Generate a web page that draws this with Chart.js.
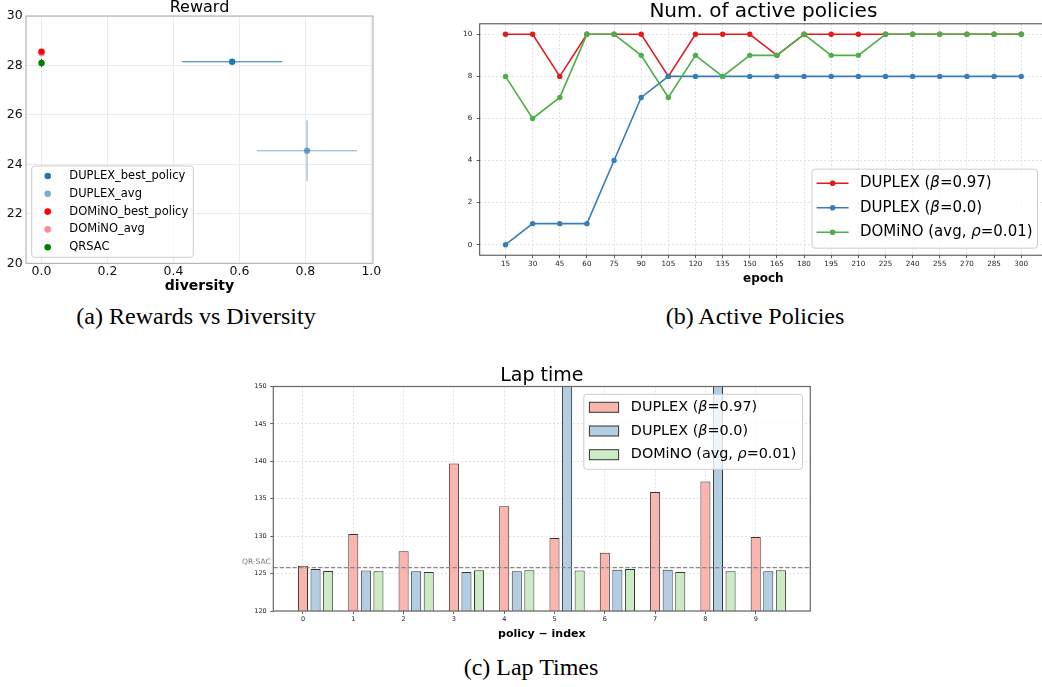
<!DOCTYPE html>
<html>
<head>
<meta charset="utf-8">
<script src="https://cdn.jsdelivr.net/npm/chart.js@4.4.0/dist/chart.umd.min.js"></script>
<style>
    html, body { margin: 0; padding: 0; background: #fff; width: 1042px; height: 687px; overflow: hidden; position: relative; }
    canvas { position: absolute; }
    .cap { position: absolute; font-family: "Liberation Serif", "Times New Roman", serif; font-size: 24px; line-height: 24px; color: #000; white-space: nowrap; transform: translateX(-50%); }
</style>
</head>
<body>
<canvas id="rewardChart" width="390" height="300" style="left:0;top:0"></canvas>
<canvas id="activeChart" width="680" height="300" style="left:440px;top:0"></canvas>
<canvas id="lapChart" width="610" height="290" style="left:220px;top:360px"></canvas>
<div class="cap" style="left:196px;top:304px">(a) Rewards vs Diversity</div>
<div class="cap" style="left:755px;top:304px">(b) Active Policies</div>
<div class="cap" style="left:531px;top:655px">(c) Lap Times</div>
<script>
// --- Data ---
// (a) reward vs diversity
const rewardNames = ['DUPLEX_best_policy', 'DUPLEX_avg', 'DOMiNO_best_policy', 'DOMiNO_avg', 'QRSAC'];
const diversity = [0.578, 0.805, 0.0, 0.0, 0.0];
const diversityErr = [0.152, 0.152, 0, 0, 0];
const reward = [28.15, 24.55, 28.56, 28.49, 28.10];
const rewardErr = [0, 1.23, 0, 0, 0.17];
const diversityTicks = [0, 0.2, 0.4, 0.6, 0.8, 1.0];
const rewardTicks = [20, 22, 24, 26, 28, 30];

// (b) active policies per epoch
const epochs = [15, 30, 45, 60, 75, 90, 105, 120, 135, 150, 165, 180, 195, 210, 225, 240, 255, 270, 285, 300];
const activeDuplex097 = [10, 10, 8, 10, 10, 10, 8, 10, 10, 10, 9, 10, 10, 10, 10, 10, 10, 10, 10, 10];
const activeDuplex00 = [0, 1, 1, 1, 4, 7, 8, 8, 8, 8, 8, 8, 8, 8, 8, 8, 8, 8, 8, 8];
const activeDomino = [8, 6, 7, 10, 10, 9, 7, 9, 8, 9, 9, 10, 9, 9, 10, 10, 10, 10, 10, 10];
const activeTicks = [0, 2, 4, 6, 8, 10];

// (c) lap time per policy
const policyIndex = [0, 1, 2, 3, 4, 5, 6, 7, 8, 9];
const lapDuplex097 = [126.05, 130.3, 128.0, 139.7, 134.0, 129.75, 127.8, 135.9, 137.3, 129.9];
const lapDuplex00 = [125.6, 125.4, 125.3, 125.2, 125.3, 172.0, 125.5, 125.5, 168.0, 125.3];
const lapDomino = [125.35, 125.3, 125.2, 125.45, 125.45, 125.4, 125.6, 125.2, 125.3, 125.45];
const lapTicks = [120, 125, 130, 135, 140, 145, 150];
const qrsacLapTime = 125.8;

// --- Styles ---
const FONT = '"DejaVu Sans", sans-serif';
Chart.defaults.font.family = FONT;
Chart.defaults.color = '#222';

const COLORS = {
    rewards: ['#1f77b4', 'rgba(31,119,180,0.6)', '#ff0000', 'rgba(255,0,0,0.45)', '#008000'],
    set1: ['#e41a1c', '#377eb8', '#4daf4a'],
    pastel: ['#fbb4ae', '#b3cde3', '#ccebc5']
};

// --- Helpers ---
const fixedTicks = (values) => (scale) => { scale.ticks = values.map(v => ({ value: v })); };
const fixWidth = (w) => (scale) => { scale.width = w; };
const fixHeight = (h) => (scale) => { scale.height = h; };

// text with italic greek letters (like mathtext)
const drawRichText = (ctx, text, x, y, size) => {
    ctx.textBaseline = 'middle';
    ctx.textAlign = 'left';
    ctx.fillStyle = '#000';
    text.split(/([βρ])/).forEach(part => {
        if (!part) return;
        const greek = /[βρ]/.test(part);
        ctx.font = (greek ? 'italic ' : '') + size + 'px ' + FONT;
        ctx.fillText(part, x, y);
        x += ctx.measureText(part).width;
    });
};

const makeFrame = (color, width) => ({
    id: 'frame',
    afterDatasetsDraw(chart) {
        const { ctx, chartArea: a } = chart;
        ctx.save();
        ctx.strokeStyle = color;
        ctx.lineWidth = width;
        ctx.strokeRect(a.left, a.top, a.right - a.left, a.bottom - a.top);
        ctx.restore();
    }
});

// legend box drawn inside the plot area
const makeLegend = (cfg) => ({
    id: 'boxLegend',
    afterDatasetsDraw(chart) {
        const { ctx, chartArea: a } = chart;
        const bx = cfg.anchor === 'bottomleft' ? a.left + cfg.dx : a.right - cfg.dx - cfg.w;
        const by = cfg.anchor === 'topright' ? a.top + cfg.dy : a.bottom - cfg.dy - cfg.h;
        ctx.save();
        ctx.beginPath();
        ctx.roundRect(bx, by, cfg.w, cfg.h, 3);
        ctx.fillStyle = 'rgba(255,255,255,0.8)';
        ctx.fill();
        ctx.strokeStyle = '#cccccc';
        ctx.lineWidth = 1;
        ctx.stroke();
        cfg.items.forEach((it, i) => {
            const cy = by + cfg.firstRow + i * cfg.rowGap;
            if (cfg.kind === 'dot') {
                ctx.beginPath();
                ctx.arc(bx + cfg.markX, cy, 3.3, 0, Math.PI * 2);
                ctx.fillStyle = it.color;
                ctx.fill();
            } else if (cfg.kind === 'line') {
                ctx.beginPath();
                ctx.moveTo(bx + cfg.markX - 16, cy);
                ctx.lineTo(bx + cfg.markX + 16, cy);
                ctx.strokeStyle = it.color;
                ctx.lineWidth = 1.6;
                ctx.stroke();
                ctx.beginPath();
                ctx.arc(bx + cfg.markX, cy, 2.8, 0, Math.PI * 2);
                ctx.fillStyle = it.color;
                ctx.fill();
            } else {
                ctx.fillStyle = it.color;
                ctx.fillRect(bx + cfg.markX - 14.6, cy - 5, 29.2, 10);
                ctx.strokeStyle = '#333';
                ctx.lineWidth = 1;
                ctx.strokeRect(bx + cfg.markX - 14.6, cy - 5, 29.2, 10);
            }
            drawRichText(ctx, it.label, bx + cfg.textX, cy, cfg.fontSize);
        });
        ctx.restore();
    }
});

// --- (a) Reward vs diversity ---
const errorBarPlugin = {
    id: 'errorBars',
    beforeDatasetsDraw(chart) {
        const { ctx, scales: { x, y } } = chart;
        ctx.save();
        ctx.lineWidth = 1;
        diversity.forEach((d, i) => {
            ctx.strokeStyle = COLORS.rewards[i];
            const px = x.getPixelForValue(d);
            const py = y.getPixelForValue(reward[i]);
            if (diversityErr[i] > 0) {
                ctx.beginPath();
                ctx.moveTo(x.getPixelForValue(d - diversityErr[i]), py);
                ctx.lineTo(x.getPixelForValue(d + diversityErr[i]), py);
                ctx.stroke();
            }
            if (rewardErr[i] > 0) {
                ctx.beginPath();
                ctx.moveTo(px, y.getPixelForValue(reward[i] - rewardErr[i]));
                ctx.lineTo(px, y.getPixelForValue(reward[i] + rewardErr[i]));
                ctx.stroke();
            }
        });
        ctx.restore();
    }
};

new Chart(document.getElementById('rewardChart'), {
    type: 'scatter',
    data: {
        datasets: rewardNames.map((name, i) => ({
            label: name,
            data: [{ x: diversity[i], y: reward[i] }],
            backgroundColor: COLORS.rewards[i],
            borderWidth: 0,
            pointRadius: 3.2,
            pointHoverRadius: 3.2,
            order: rewardNames.length - i
        }))
    },
    options: {
        responsive: false,
        animation: false,
        layout: { padding: { left: 0, right: 17, top: 0, bottom: 0 } },
        plugins: {
            legend: { display: false },
            tooltip: { enabled: false },
            title: {
                display: true, text: 'Reward', fullSize: false, color: '#000',
                font: { size: 16, weight: 'normal', lineHeight: 1 },
                padding: { top: 0, bottom: 0 }
            }
        },
        scales: {
            x: {
                type: 'linear', min: -0.047, max: 1.005,
                afterBuildTicks: fixedTicks(diversityTicks),
                afterFit: fixHeight(36.7),
                ticks: { callback: v => v.toFixed(1), font: { size: 12.5 }, color: '#111', padding: 1, maxRotation: 0, autoSkip: false },
                grid: { color: '#ebebeb', drawTicks: false },
                border: { display: false },
                title: { display: true, text: 'diversity', color: '#000', font: { size: 14, weight: 'bold' }, padding: { top: 0, bottom: 5.6 } }
            },
            y: {
                min: 20, max: 30,
                afterBuildTicks: fixedTicks(rewardTicks),
                afterFit: fixWidth(26),
                ticks: { font: { size: 12.5 }, color: '#111', padding: 3.3 },
                grid: { color: '#ebebeb', drawTicks: false },
                border: { display: false }
            }
        }
    },
    plugins: [errorBarPlugin, makeFrame('#aaaaaa', 1), makeLegend({
        anchor: 'bottomleft', dx: 5.7, dy: 6, w: 161.6, h: 91.3,
        firstRow: 10, rowGap: 17.8, markX: 16, textX: 37.6, fontSize: 11.5, kind: 'dot',
        items: rewardNames.map((n, i) => ({ label: n, color: COLORS.rewards[i] }))
    })]
});

// --- (b) Active policies ---
const activeSeries = [
    { label: 'DUPLEX (β=0.97)', values: activeDuplex097 },
    { label: 'DUPLEX (β=0.0)', values: activeDuplex00 },
    { label: 'DOMiNO (avg, ρ=0.01)', values: activeDomino }
];

new Chart(document.getElementById('activeChart'), {
    type: 'line',
    data: {
        datasets: activeSeries.map((s, i) => ({
            label: s.label,
            data: epochs.map((e, j) => ({ x: e, y: s.values[j] })),
            borderColor: COLORS.set1[i],
            backgroundColor: COLORS.set1[i],
            borderWidth: 1.6,
            pointRadius: 2.7,
            pointHoverRadius: 2.7,
            pointBorderWidth: 0,
            tension: 0,
            order: activeSeries.length - i
        }))
    },
    options: {
        responsive: false,
        animation: false,
        layout: { padding: { left: 0, right: 73, top: 0, bottom: 0 } },
        plugins: {
            legend: { display: false },
            tooltip: { enabled: false },
            title: {
                display: true, text: 'Num. of active policies', fullSize: false, color: '#000',
                font: { size: 20, weight: 'normal', lineHeight: 1 },
                padding: { top: 2, bottom: 1.8 }
            }
        },
        scales: {
            x: {
                type: 'linear', min: 0.75, max: 314.25,
                afterBuildTicks: fixedTicks(epochs),
                afterFit: fixHeight(44.8),
                ticks: { font: { size: 7.2 }, color: '#222', padding: 1.3, maxRotation: 0, autoSkip: false },
                grid: { color: '#e2e2e2', tickColor: '#333', tickLength: 3, tickWidth: 0.8 },
                border: { display: false, dash: [2, 2] },
                title: { display: true, text: 'epoch', color: '#000', font: { size: 12, weight: 'bold' }, padding: { top: 0, bottom: 13.8 } }
            },
            y: {
                min: -0.5, max: 10.5,
                afterBuildTicks: fixedTicks(activeTicks),
                afterFit: fixWidth(39.7),
                ticks: { font: { size: 7.2 }, color: '#222', padding: 4.5 },
                grid: { color: '#e2e2e2', tickColor: '#333', tickLength: 3, tickWidth: 0.8 },
                border: { display: false, dash: [2, 2] }
            }
        }
    },
    plugins: [makeFrame('#444444', 1), makeLegend({
        anchor: 'bottomright', dx: 9.5, dy: 7, w: 225.5, h: 79,
        firstRow: 14, rowGap: 24.5, markX: 20.6, textX: 48, fontSize: 15, kind: 'line',
        items: activeSeries.map((s, i) => ({ label: s.label, color: COLORS.set1[i] }))
    })]
});

// --- (c) Lap time ---
const lapSeries = [
    { label: 'DUPLEX (β=0.97)', values: lapDuplex097 },
    { label: 'DUPLEX (β=0.0)', values: lapDuplex00 },
    { label: 'DOMiNO (avg, ρ=0.01)', values: lapDomino }
];
const barShift = [0, 0.25, 0.5];

const qrsacPlugin = {
    id: 'qrsacLine',
    afterDatasetsDraw(chart) {
        const { ctx, chartArea: a, scales: { y } } = chart;
        const py = y.getPixelForValue(qrsacLapTime);
        ctx.save();
        ctx.strokeStyle = '#888888';
        ctx.lineWidth = 1.2;
        ctx.setLineDash([4.4, 2]);
        ctx.beginPath();
        ctx.moveTo(a.left, py);
        ctx.lineTo(a.right, py);
        ctx.stroke();
        ctx.setLineDash([]);
        ctx.font = '7.5px ' + FONT;
        ctx.fillStyle = '#777';
        ctx.textAlign = 'right';
        ctx.textBaseline = 'middle';
        ctx.fillText('QR-SAC', a.left - 2.6, py - 5.5);
        ctx.restore();
    }
};

new Chart(document.getElementById('lapChart'), {
    type: 'bar',
    data: {
        datasets: lapSeries.map((s, i) => ({
            label: s.label,
            data: policyIndex.map((p, j) => ({ x: p + barShift[i], y: s.values[j] })),
            backgroundColor: COLORS.pastel[i],
            borderColor: '#333333',
            borderWidth: 1,
            borderSkipped: false,
            grouped: false,
            barPercentage: 1,
            categoryPercentage: 0.8,
            clip: 0
        }))
    },
    options: {
        responsive: false,
        animation: false,
        layout: { padding: { left: 0, right: 19.7, top: 0, bottom: 0 } },
        plugins: {
            legend: { display: false },
            tooltip: { enabled: false },
            title: {
                display: true, text: 'Lap time', fullSize: false, color: '#000',
                font: { size: 19, weight: 'normal', lineHeight: 1 },
                padding: { top: 6.5, bottom: 1 }
            }
        },
        scales: {
            x: {
                type: 'linear', min: -0.59, max: 10.085, offset: false,
                afterBuildTicks: fixedTicks(policyIndex),
                afterFit: fixHeight(39),
                ticks: { font: { size: 6.5 }, color: '#222', padding: 1.6, maxRotation: 0, autoSkip: false },
                grid: { offset: false, color: '#e2e2e2', tickColor: '#333', tickLength: 3, tickWidth: 0.8 },
                border: { display: false, dash: [2, 2] },
                title: { display: true, text: 'policy − index', color: '#000', font: { size: 11, weight: 'bold' }, padding: { top: 0, bottom: 9.4 } }
            },
            y: {
                min: 120, max: 150,
                afterBuildTicks: fixedTicks(lapTicks),
                afterFit: fixWidth(53.3),
                ticks: { font: { size: 6.5 }, color: '#222', padding: 3.6 },
                grid: { color: '#e2e2e2', tickColor: '#333', tickLength: 3, tickWidth: 0.8 },
                border: { display: false, dash: [2, 2] }
            }
        }
    },
    plugins: [qrsacPlugin, makeFrame('#666666', 1.2), makeLegend({
        anchor: 'topright', dx: 7.7, dy: 7.8, w: 218.8, h: 75,
        firstRow: 13, rowGap: 23.7, markX: 20.2, textX: 47, fontSize: 14.4, kind: 'patch',
        items: lapSeries.map((s, i) => ({ label: s.label, color: COLORS.pastel[i] }))
    })]
});
</script>
</body>
</html>
